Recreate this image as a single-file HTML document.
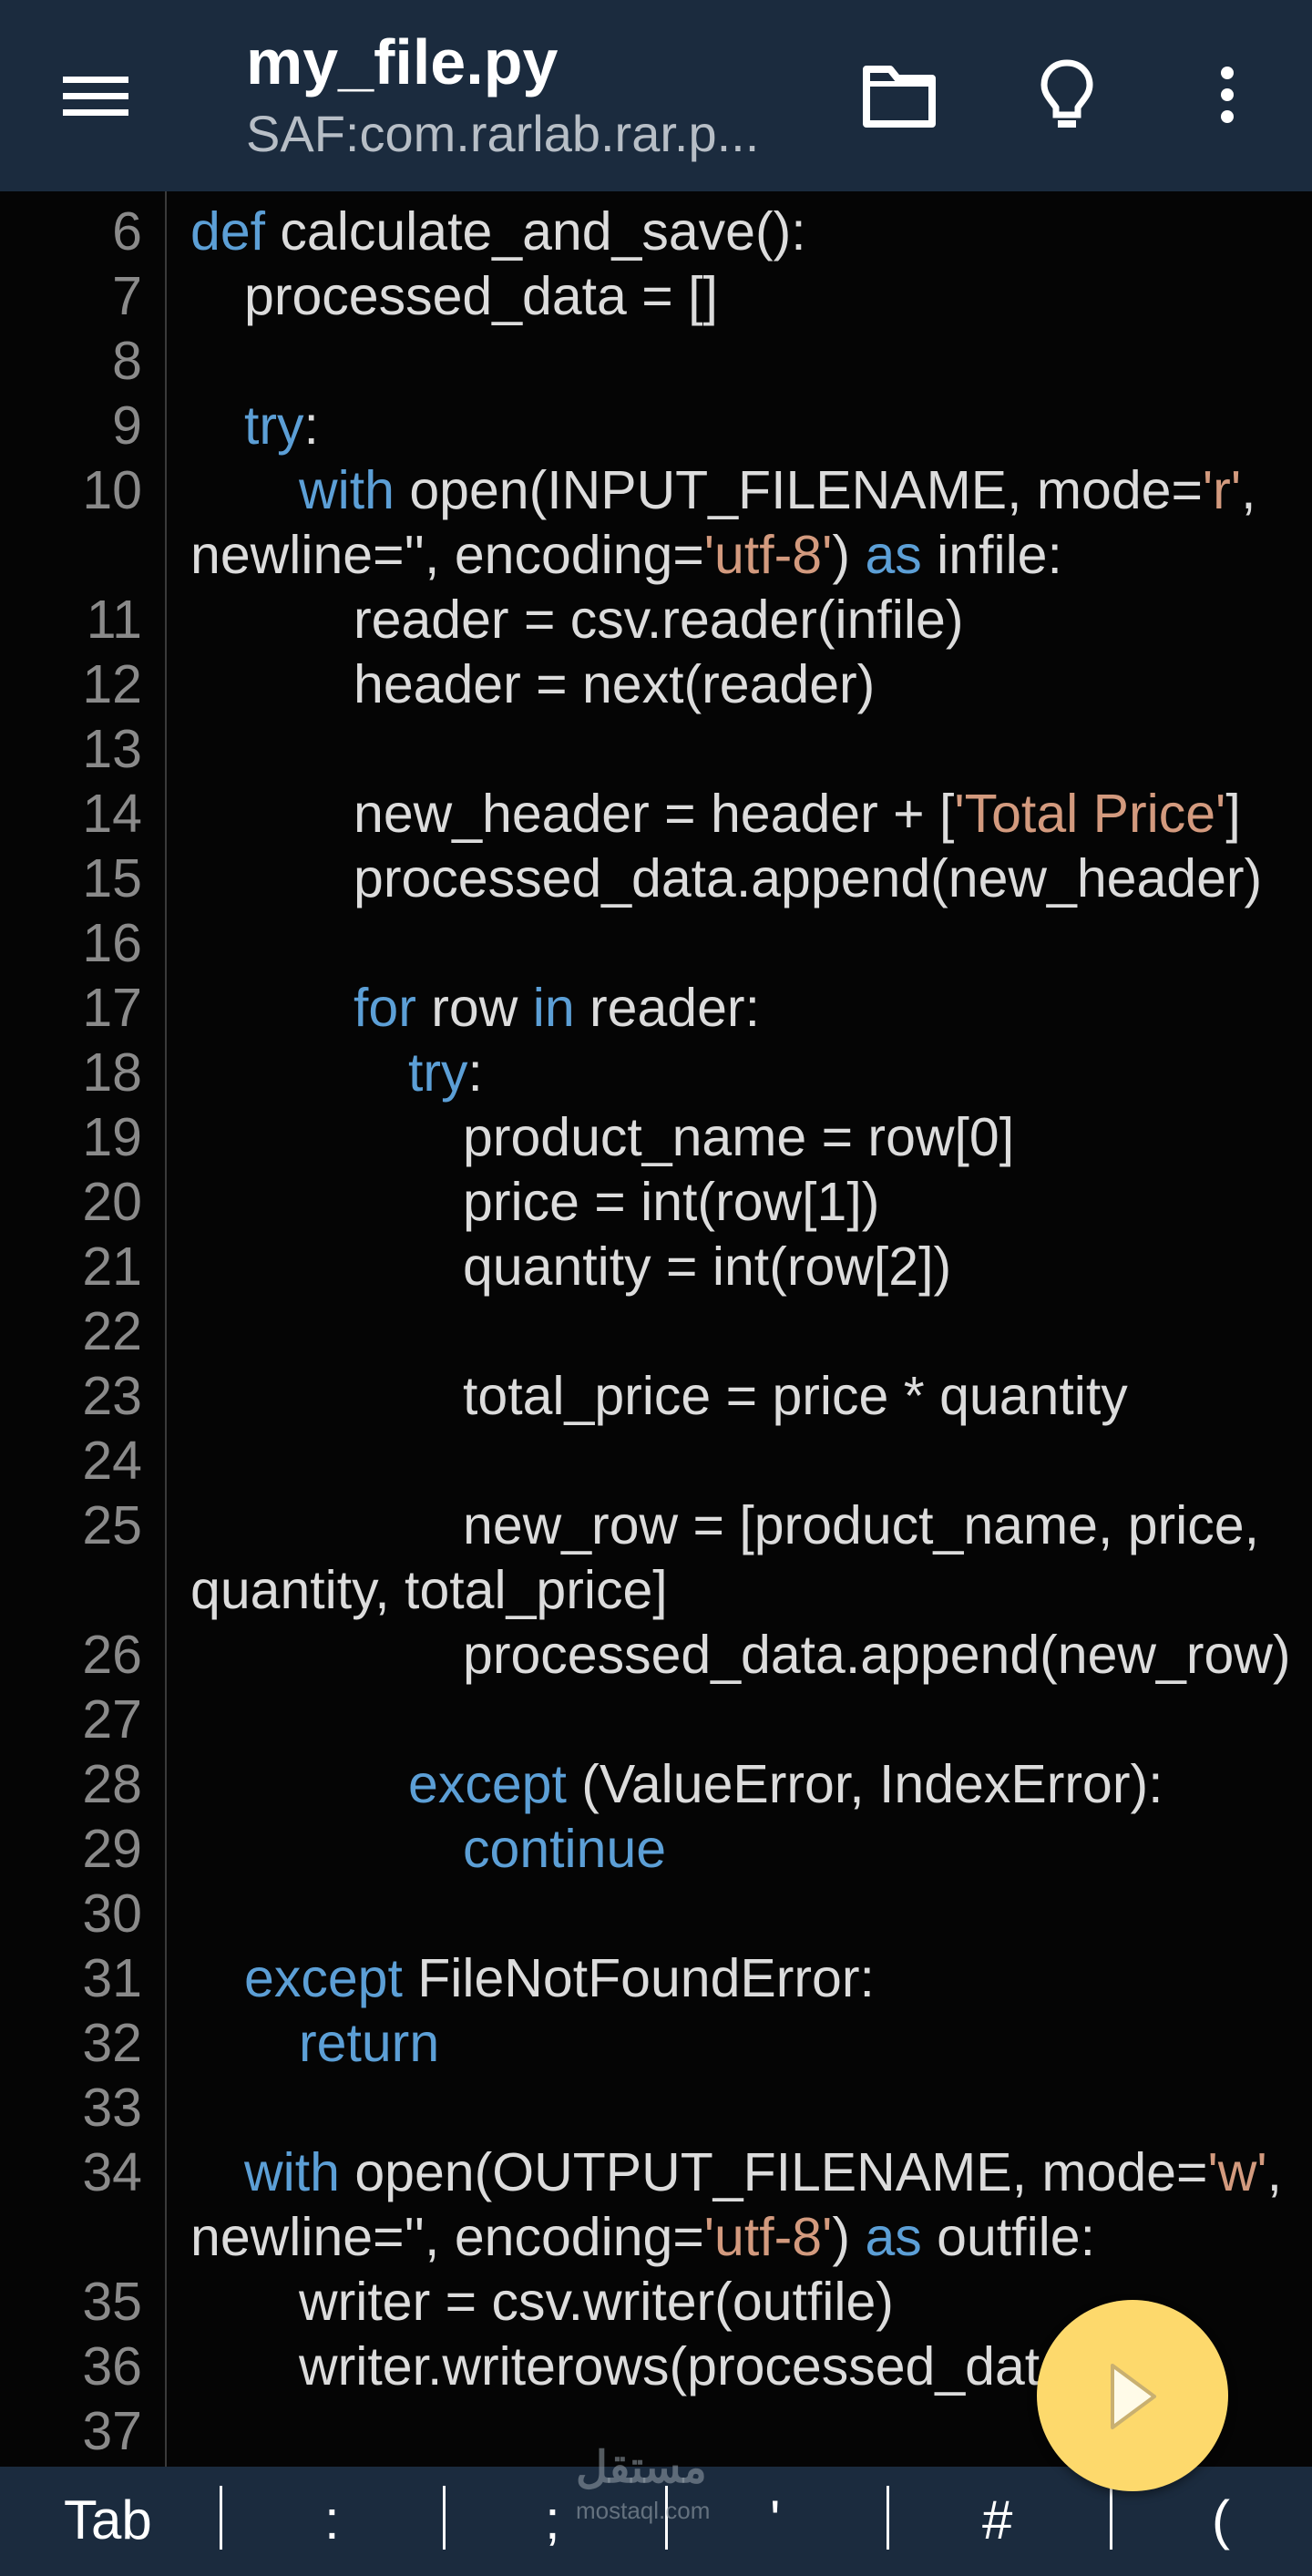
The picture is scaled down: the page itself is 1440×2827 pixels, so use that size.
<!DOCTYPE html>
<html><head><meta charset="utf-8"><style>
*{margin:0;padding:0;box-sizing:border-box}
body{width:1440px;height:2827px;background:#050505;position:relative;overflow:hidden;font-family:"Liberation Sans",sans-serif}
.hdr{position:absolute;left:0;top:0;width:1440px;height:210px;background:#1b2b3e}
.bar{position:absolute;left:0;top:2707px;width:1440px;height:120px;background:#1b2b3e}
.gut{position:absolute;left:181px;top:210px;width:2px;height:2497px;background:#3a3a3a}
.code{position:absolute;left:0;top:219px;width:1440px;font-size:59px;line-height:71px;color:#dcdcdc}
.r{height:71px;position:relative}
.n{position:absolute;right:1284px;color:#8a8a8a;text-align:right;white-space:pre}
.t{position:absolute;white-space:pre}
.k{color:#5c9fd6}.s{color:#d39a7e}
.bk{position:absolute;top:2726px;font-size:60px;color:#fff;line-height:80px}
.dv{position:absolute;top:2728px;width:3px;height:70px;background:#fff}
</style></head><body>
<div class="hdr">
 <div style="position:absolute;left:69px;top:84px;width:72px;height:7px;background:#fff"></div>
 <div style="position:absolute;left:69px;top:102px;width:72px;height:7px;background:#fff"></div>
 <div style="position:absolute;left:69px;top:120px;width:72px;height:7px;background:#fff"></div>
 <div style="position:absolute;left:270px;top:28px;font-size:70px;font-weight:bold;color:#fff">my_file.py</div>
 <div style="position:absolute;left:270px;top:114px;font-size:56px;color:#b7bec6">SAF:com.rarlab.rar.p...</div>
 <svg style="position:absolute;left:945px;top:70px" width="85" height="72" viewBox="0 0 85 72"><path d="M6 6 H32 L40 16 H78 V66 H6 Z" fill="none" stroke="#fff" stroke-width="8" stroke-linejoin="round"/><path d="M6 22 H78" stroke="#fff" stroke-width="6"/></svg>
 <svg style="position:absolute;left:1140px;top:64px" width="62" height="80" viewBox="0 0 62 80"><path d="M31 5 C15 5 6 17 6 29 C6 40 14 46 19 54 V62 H43 V54 C48 46 56 40 56 29 C56 17 47 5 31 5 Z" fill="none" stroke="#fff" stroke-width="7"/><rect x="21" y="68" width="20" height="8" fill="#fff"/></svg>
 <div style="position:absolute;left:1340px;top:73px;width:14px;height:14px;border-radius:50%;background:#fff"></div>
 <div style="position:absolute;left:1340px;top:97px;width:14px;height:14px;border-radius:50%;background:#fff"></div>
 <div style="position:absolute;left:1340px;top:121px;width:14px;height:14px;border-radius:50%;background:#fff"></div>
</div>
<div class="gut"></div>
<div class="code">
<div class="r"><span class="n">6</span><span class="t" style="left:209px"><span class="k">def</span> calculate_and_save():</span></div>
<div class="r"><span class="n">7</span><span class="t" style="left:268px">processed_data = []</span></div>
<div class="r"><span class="n">8</span></div>
<div class="r"><span class="n">9</span><span class="t" style="left:268px"><span class="k">try</span>:</span></div>
<div class="r"><span class="n">10</span><span class="t" style="left:328px"><span class="k">with</span> open(INPUT_FILENAME, mode=<span class="s">'r'</span>,</span></div>
<div class="r"><span class="t" style="left:209px">newline='', encoding=<span class="s">'utf-8'</span>) <span class="k">as</span> infile:</span></div>
<div class="r"><span class="n">11</span><span class="t" style="left:388px">reader = csv.reader(infile)</span></div>
<div class="r"><span class="n">12</span><span class="t" style="left:388px">header = next(reader)</span></div>
<div class="r"><span class="n">13</span></div>
<div class="r"><span class="n">14</span><span class="t" style="left:388px">new_header = header + [<span class="s">'Total Price'</span>]</span></div>
<div class="r"><span class="n">15</span><span class="t" style="left:388px">processed_data.append(new_header)</span></div>
<div class="r"><span class="n">16</span></div>
<div class="r"><span class="n">17</span><span class="t" style="left:388px"><span class="k">for</span> row <span class="k">in</span> reader:</span></div>
<div class="r"><span class="n">18</span><span class="t" style="left:448px"><span class="k">try</span>:</span></div>
<div class="r"><span class="n">19</span><span class="t" style="left:508px">product_name = row[0]</span></div>
<div class="r"><span class="n">20</span><span class="t" style="left:508px">price = int(row[1])</span></div>
<div class="r"><span class="n">21</span><span class="t" style="left:508px">quantity = int(row[2])</span></div>
<div class="r"><span class="n">22</span></div>
<div class="r"><span class="n">23</span><span class="t" style="left:508px">total_price = price * quantity</span></div>
<div class="r"><span class="n">24</span></div>
<div class="r"><span class="n">25</span><span class="t" style="left:508px">new_row = [product_name, price,</span></div>
<div class="r"><span class="t" style="left:209px">quantity, total_price]</span></div>
<div class="r"><span class="n">26</span><span class="t" style="left:508px">processed_data.append(new_row)</span></div>
<div class="r"><span class="n">27</span></div>
<div class="r"><span class="n">28</span><span class="t" style="left:448px"><span class="k">except</span> (ValueError, IndexError):</span></div>
<div class="r"><span class="n">29</span><span class="t" style="left:508px"><span class="k">continue</span></span></div>
<div class="r"><span class="n">30</span></div>
<div class="r"><span class="n">31</span><span class="t" style="left:268px"><span class="k">except</span> FileNotFoundError:</span></div>
<div class="r"><span class="n">32</span><span class="t" style="left:328px"><span class="k">return</span></span></div>
<div class="r"><span class="n">33</span></div>
<div class="r"><span class="n">34</span><span class="t" style="left:268px"><span class="k">with</span> open(OUTPUT_FILENAME, mode=<span class="s">'w'</span>,</span></div>
<div class="r"><span class="t" style="left:209px">newline='', encoding=<span class="s">'utf-8'</span>) <span class="k">as</span> outfile:</span></div>
<div class="r"><span class="n">35</span><span class="t" style="left:328px">writer = csv.writer(outfile)</span></div>
<div class="r"><span class="n">36</span><span class="t" style="left:328px">writer.writerows(processed_data)</span></div>
<div class="r"><span class="n">37</span></div>
</div>
<div class="bar"></div>
<div class="bk" style="left:70px">Tab</div>
<div class="dv" style="left:241px"></div>
<div class="bk" style="left:356px">:</div>
<div class="dv" style="left:486px"></div>
<div class="bk" style="left:598px">;</div>
<div class="dv" style="left:730px"></div>
<div class="bk" style="left:845px">'</div>
<div class="dv" style="left:973px"></div>
<div class="bk" style="left:1078px">#</div>
<div class="dv" style="left:1218px"></div>
<div class="bk" style="left:1330px">(</div>
<div style="position:absolute;left:632px;top:2680px;font-size:48px;font-weight:bold;color:rgba(150,160,170,0.55);font-family:'Liberation Sans','Noto Sans CJK SC',sans-serif">مستقل</div>
<div style="position:absolute;left:632px;top:2740px;font-size:26px;color:rgba(150,160,170,0.6)">mostaql.com</div>
<div style="position:absolute;left:1138px;top:2524px;width:210px;height:210px;border-radius:50%;background:#fdd96c;box-shadow:0 4px 10px rgba(0,0,0,0.4)"></div>
<svg style="position:absolute;left:1215px;top:2590px" width="60" height="80" viewBox="0 0 60 80"><path d="M6 6 L52 40 L6 74 Z" fill="#fffbe8" stroke="#c9b070" stroke-width="4" stroke-linejoin="round"/></svg>
</body></html>
